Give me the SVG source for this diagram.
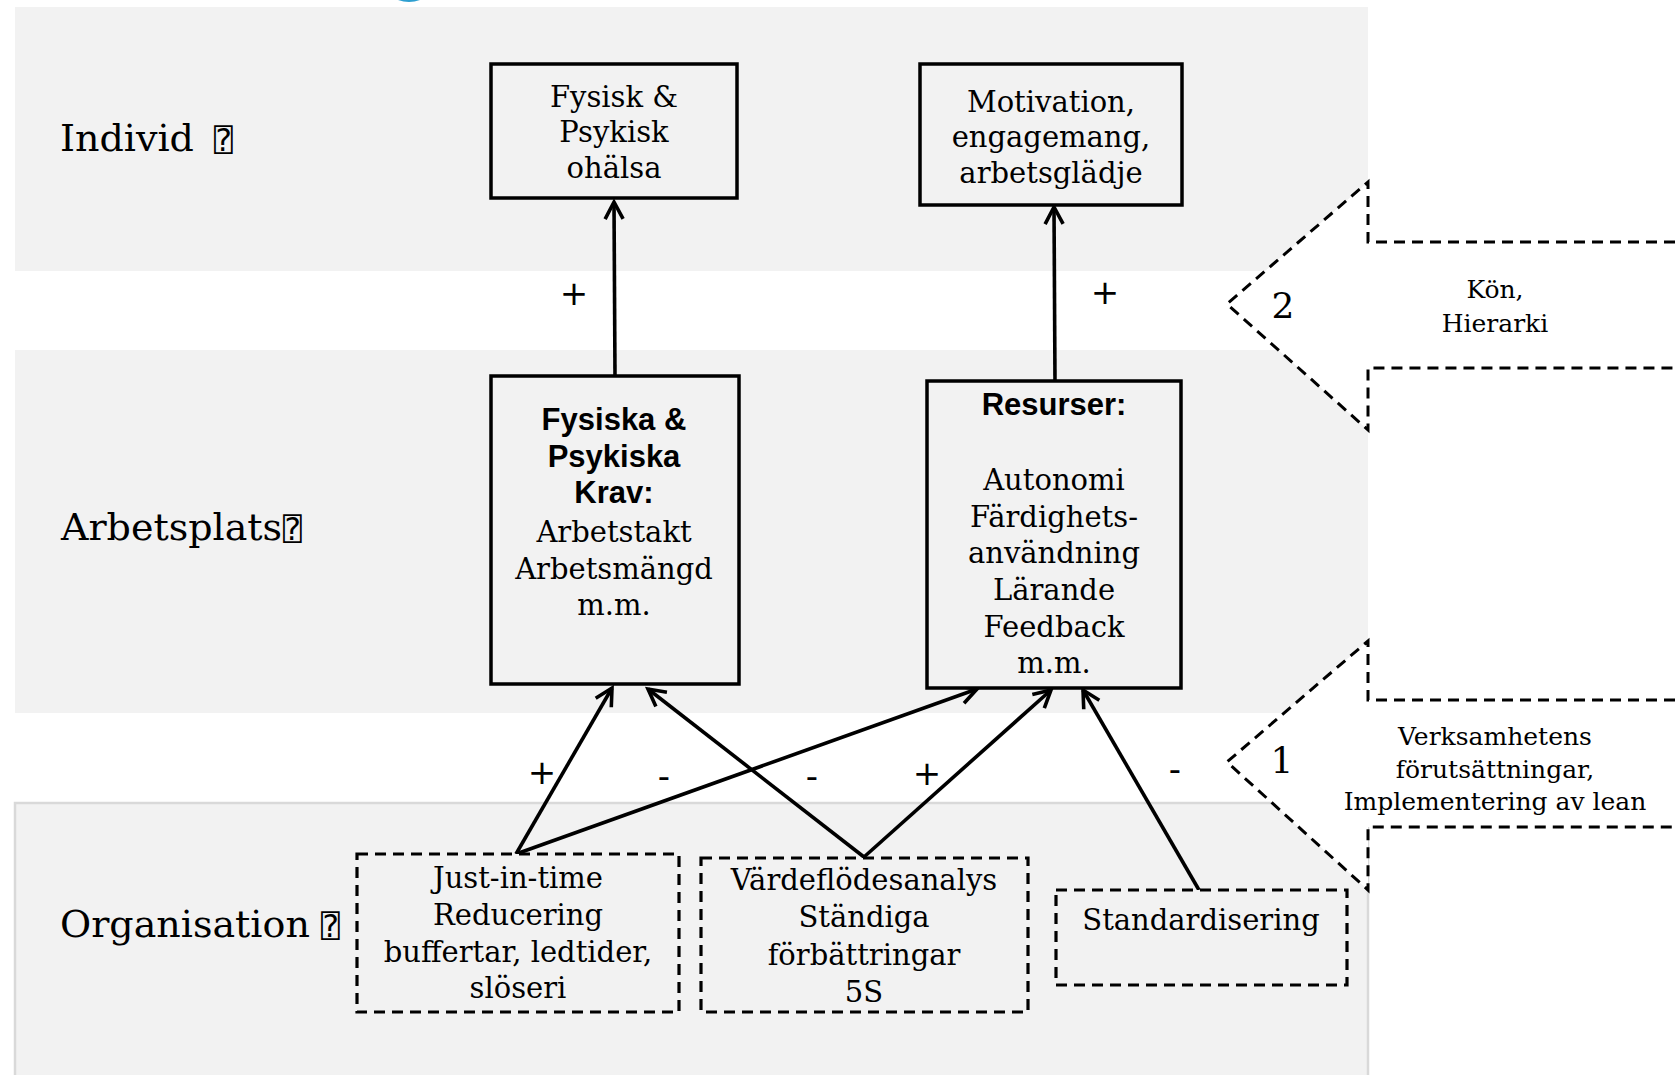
<svg xmlns="http://www.w3.org/2000/svg" width="1675" height="1075" viewBox="0 0 1675 1075">
<style>
.band{fill:#f2f2f2}
.box{fill:#f2f2f2;stroke:#000;stroke-width:3.5}
.dbox{fill:#f2f2f2;stroke:#000;stroke-width:3.2;stroke-dasharray:11 7}
.t{font-family:"DejaVu Serif","Liberation Serif",serif;font-size:29px;fill:#000;text-anchor:middle}
.b{font-family:"Liberation Sans",Arial,sans-serif;font-weight:bold;font-size:31px;fill:#000;text-anchor:middle}
.lvl{font-family:"DejaVu Serif","Liberation Serif",serif;font-size:38px;fill:#000}
.q{font-family:"DejaVu Sans Mono","DejaVu Sans",monospace;font-size:31px}
.side{font-family:"DejaVu Serif","Liberation Serif",serif;font-size:25px;fill:#000;text-anchor:middle}
.num{font-family:"DejaVu Serif","Liberation Serif",serif;font-size:36px;fill:#000;text-anchor:middle}
.sign{font-family:"DejaVu Sans","Liberation Sans",sans-serif;font-size:34px;fill:#000;text-anchor:middle}
.big{fill:#fff;stroke:#000;stroke-width:3;stroke-dasharray:11 7}
.c{fill:none;stroke:#000;stroke-width:3.6;marker-end:url(#ah)}
</style>
<defs>
<marker id="ah" markerUnits="userSpaceOnUse" markerWidth="24" markerHeight="24" viewBox="0 0 24 24" refX="19" refY="12" orient="auto">
<path d="M2,3 L19,12 L2,21" fill="none" stroke="#000" stroke-width="3.6"/>
</marker>
</defs>
<rect width="1675" height="1075" fill="#fff"/>
<path d="M398,0 Q409,4 420,0 Z" fill="#2e9fd0"/>
<g id="bands">
<rect class="band" x="15" y="7" width="1353" height="264"/>
<rect class="band" x="15" y="350" width="1353" height="363"/>
<rect x="15" y="803" width="1353" height="300" fill="#f2f2f2" stroke="#d9d9d9" stroke-width="2.5"/>
</g>
<g id="level-labels">
<text class="lvl" x="60" y="151">Individ <tspan class="q" x="214">⍰</tspan></text>
<text class="lvl" x="61" y="540">Arbetsplats<tspan class="q" x="283">⍰</tspan></text>
<text class="lvl" x="60" y="937">Organisation <tspan class="q" x="321">⍰</tspan></text>
</g>
<g id="factor-2">
<path class="big" d="M1675,242 L1368,242 L1368,182 L1227,304 L1368,430 L1368,368 L1675,368"/>
<text class="num" x="1283" y="318">2</text>
<text class="side" x="1495" y="298">Kön,</text>
<text class="side" x="1495" y="332">Hierarki</text>
</g>
<g id="factor-1">
<path class="big" d="M1675,700 L1368,700 L1368,641 L1227,762 L1368,890 L1368,827 L1675,827"/>
<text class="num" x="1282" y="773">1</text>
<text class="side" x="1495" y="745">Verksamhetens</text>
<text class="side" x="1495" y="778">förutsättningar,</text>
<text class="side" x="1495" y="810">Implementering av lean</text>
</g>
<g id="connectors">
<path class="c" d="M615,376 L614,202"/>
<path class="c" d="M1055,381 L1054,207"/>
<path class="c" d="M516,854 L612,688"/>
<path class="c" d="M516,854 L977,689"/>
<path class="c" d="M864,857 L648,689"/>
<path class="c" d="M864,857 L1051,690"/>
<path class="c" d="M1199,890 L1083,690"/>
</g>
<g id="signs">
<text class="sign" x="574" y="305">+</text>
<text class="sign" x="1105" y="304">+</text>
<text class="sign" x="542" y="784">+</text>
<text class="sign" x="927" y="785">+</text>
<text class="sign" x="664" y="788">-</text>
<text class="sign" x="812" y="788">-</text>
<text class="sign" x="1175" y="781">-</text>
</g>
<g id="node-ohalsa">
<rect class="box" x="491" y="64" width="246" height="134"/>
<text class="t" x="614" y="107">Fysisk &amp;</text>
<text class="t" x="614" y="142">Psykisk</text>
<text class="t" x="614" y="178">ohälsa</text>
</g>
<g id="node-motivation">
<rect class="box" x="920" y="64" width="262" height="141"/>
<text class="t" x="1051" y="112">Motivation,</text>
<text class="t" x="1051" y="147">engagemang,</text>
<text class="t" x="1051" y="183">arbetsglädje</text>
</g>
<g id="node-krav">
<rect class="box" x="491" y="376" width="248" height="308"/>
<text class="b" x="614" y="430">Fysiska &amp;</text>
<text class="b" x="614" y="467">Psykiska</text>
<text class="b" x="614" y="503">Krav:</text>
<text class="t" x="614" y="542">Arbetstakt</text>
<text class="t" x="614" y="579">Arbetsmängd</text>
<text class="t" x="614" y="615">m.m.</text>
</g>
<g id="node-resurser">
<rect class="box" x="927" y="381" width="254" height="307"/>
<text class="b" x="1054" y="415">Resurser:</text>
<text class="t" x="1054" y="490">Autonomi</text>
<text class="t" x="1054" y="527">Färdighets-</text>
<text class="t" x="1054" y="563">användning</text>
<text class="t" x="1054" y="600">Lärande</text>
<text class="t" x="1054" y="637">Feedback</text>
<text class="t" x="1054" y="673">m.m.</text>
</g>
<g id="node-jit">
<rect class="dbox" x="357" y="854" width="322" height="158"/>
<text class="t" x="518" y="888">Just-in-time</text>
<text class="t" x="518" y="925">Reducering</text>
<text class="t" x="518" y="962">buffertar, ledtider,</text>
<text class="t" x="518" y="998">slöseri</text>
</g>
<g id="node-vsm">
<rect class="dbox" x="701" y="858" width="327" height="154"/>
<text class="t" x="864" y="890">Värdeflödesanalys</text>
<text class="t" x="864" y="927">Ständiga</text>
<text class="t" x="864" y="965">förbättringar</text>
<text class="t" x="864" y="1002">5S</text>
</g>
<g id="node-standard">
<rect class="dbox" x="1056" y="890" width="291" height="95"/>
<text class="t" x="1201" y="930">Standardisering</text>
</g>
</svg>
